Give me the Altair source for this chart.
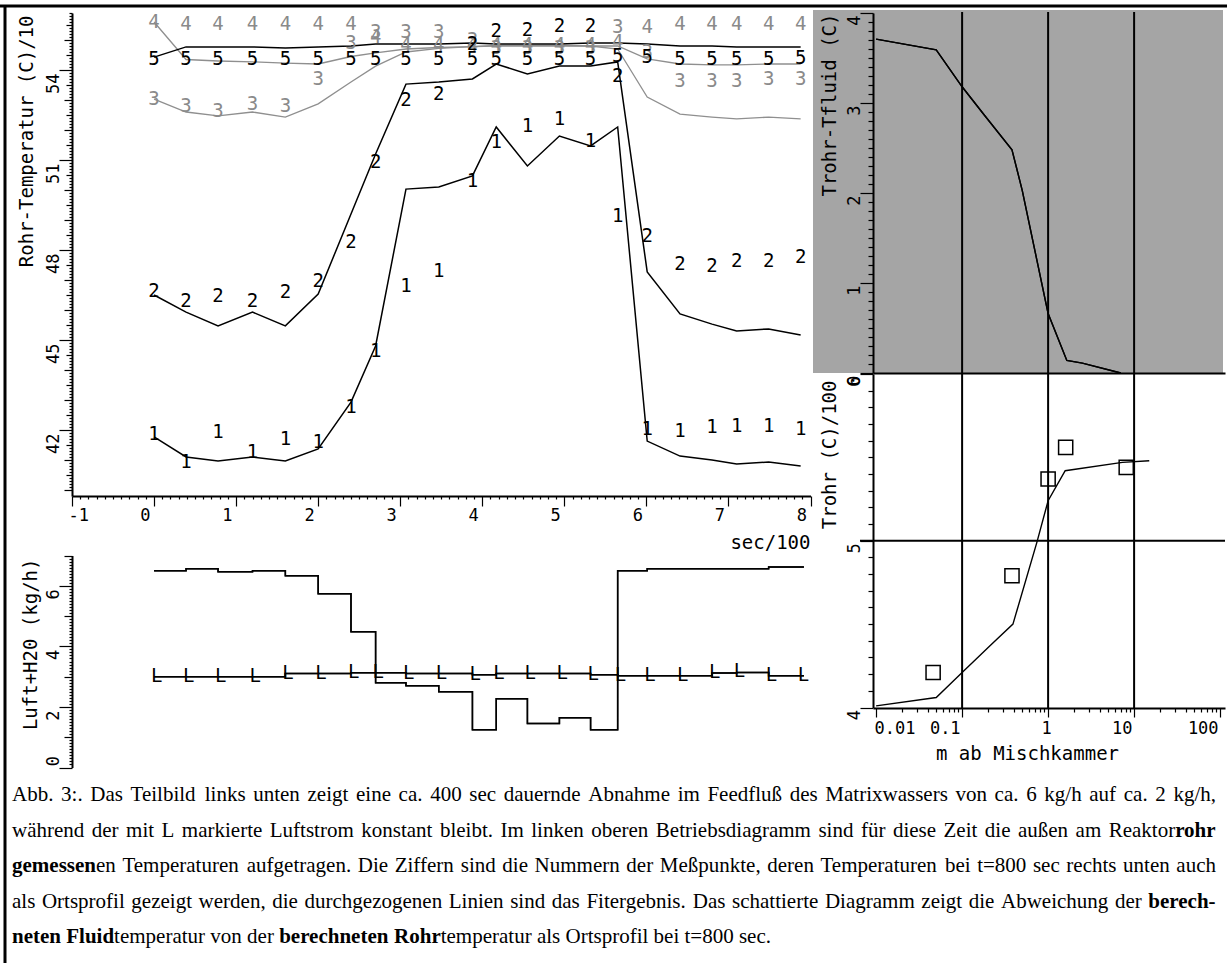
import altair as alt
import pandas as pd

W, H = 1227, 963
MONO = "DejaVu Sans Mono"
SERIF = "Liberation Serif"
GRAY_TXT = "#8a8a8a"
GRAY_LINE = "#8f8f8f"
SHADE = "#a5a5a5"

# ---------------- data: upper left operating diagram (sec/100, deg C/10) ----------------
t_sec = [0, 0.39, 0.78, 1.2, 1.6, 2.0, 2.4, 2.7, 3.07, 3.47, 3.88,
         4.17, 4.55, 4.94, 5.32, 5.65, 6.01, 6.41, 6.8, 7.1, 7.49, 7.88]
series_labels = ["1", "2", "3", "4", "5"]

fit1 = [41.77, 41.1, 40.97, 41.1, 40.97, 41.37, 42.93, 44.8, 50.03, 50.1, 50.47,
        52.1, 50.8, 51.8, 51.47, 52.1, 41.63, 41.13, 41.0, 40.87, 40.93, 40.8]
fit2 = [46.5, 45.93, 45.47, 45.93, 45.47, 46.53, 49.2, 51.2, 53.53, 53.6, 53.7,
        54.2, 53.87, 54.13, 54.13, 54.27, 47.27, 45.87, 45.53, 45.3, 45.37, 45.17]
fit3 = [53.03, 52.6, 52.47, 52.6, 52.43, 52.87, 53.6, 54.13, 54.6, 54.72, 54.78,
        54.82, 54.82, 54.82, 54.8, 54.7, 53.1, 52.53, 52.43, 52.37, 52.43, 52.37]
fit4 = [55.6, 54.35, 54.3, 54.27, 54.23, 54.2, 54.45, 54.57, 54.7, 54.75, 54.78,
        54.8, 54.8, 54.8, 54.8, 54.8, 54.37, 54.2, 54.17, 54.17, 54.2, 54.2]
fit5 = [54.43, 54.77, 54.77, 54.77, 54.73, 54.77, 54.8, 54.87, 54.87, 54.87, 54.9,
        54.87, 54.87, 54.87, 54.9, 54.9, 54.87, 54.8, 54.8, 54.77, 54.77, 54.77]

meas1 = [41.87, 40.93, 41.93, 41.27, 41.7, 41.6, 42.77, 44.63, 46.8, 47.3, 50.3,
         51.6, 52.13, 52.37, 51.63, 49.13, 42.03, 41.97, 42.1, 42.13, 42.13, 42.03]
meas2 = [46.63, 46.3, 46.47, 46.3, 46.6, 46.97, 48.27, 50.93, 53.0, 53.2, 54.87,
         55.3, 55.33, 55.47, 55.47, 53.8, 48.47, 47.53, 47.47, 47.63, 47.63, 47.77]
meas3 = [53.03, 52.8, 52.63, 52.87, 52.8, 53.7, 54.9, 55.27, 55.27, 55.27, 55.0,
         54.75, 54.75, 54.75, 54.75, 55.43, 54.6, 53.63, 53.63, 53.63, 53.7, 53.7]
meas4 = [55.6, 55.53, 55.53, 55.53, 55.53, 55.53, 55.53, 55.1, 54.85, 54.85, 54.85,
         54.85, 54.85, 54.85, 54.85, 54.93, 55.43, 55.53, 55.53, 55.53, 55.53, 55.53]
meas5 = [54.37, 54.37, 54.37, 54.37, 54.37, 54.37, 54.37, 54.37, 54.37, 54.37, 54.37,
         54.37, 54.37, 54.37, 54.37, 54.47, 54.43, 54.37, 54.37, 54.37, 54.37, 54.4]

# ---------------- data: lower left flows (kg/h) ----------------
h2o_flow = [6.5, 6.56, 6.46, 6.5, 6.33, 5.74, 4.48, 2.8, 2.7, 2.5, 1.25,
            2.27, 1.45, 1.64, 1.25, 6.5, 6.56, 6.56, 6.56, 6.56, 6.62, 6.62]
luft_flow = [3.0, 3.0, 3.0, 3.0, 3.1, 3.1, 3.13, 3.13, 3.1, 3.1, 3.06,
             3.1, 3.1, 3.1, 3.06, 3.03, 3.03, 3.03, 3.12, 3.14, 3.03, 3.03]
t_end = 7.92

# ---------------- data: right side, profiles at t=800 sec ----------------
dist_dT = [0.01, 0.05, 0.1, 0.18, 0.38, 0.5, 1.0, 1.65, 2.5, 7.0]
dT_fluid = [3.71, 3.59, 3.18, 2.87, 2.48, 2.03, 0.66, 0.14, 0.11, 0.0]
dist_fit = [0.01, 0.05, 0.1, 0.22, 0.39, 0.74, 1.0, 1.58, 7.3, 15.0]
trohr_fit = [4.01, 4.06, 4.21, 4.38, 4.5, 4.99, 5.24, 5.42, 5.47, 5.48]
dist_meas = [0.046, 0.38, 1.0, 1.6, 8.1]
trohr_meas = [4.21, 4.79, 5.37, 5.56, 5.44]
grid_dist = [0.1, 1, 10]
grid_trohr = [5]

caption_lines = [
    "Abb. 3:. Das Teilbild links unten zeigt eine ca. 400 sec dauernde Abnahme im Feedfluß des Matrixwassers von ca. 6 kg/h auf ca. 2 kg/h,",
    "während der mit L markierte Luftstrom konstant bleibt. Im linken oberen Betriebsdiagramm sind für diese Zeit die außen am Reaktor**rohr**",
    "**gemessen**en Temperaturen aufgetragen. Die Ziffern sind die Nummern der Meßpunkte, deren Temperaturen bei t=800 sec rechts unten auch",
    "als Ortsprofil gezeigt werden, die durchgezogenen Linien sind das Fitergebnis. Das schattierte Diagramm zeigt die Abweichung der **berech-**",
    "**neten Fluid**temperatur von der **berechneten Rohr**temperatur als Ortsprofil bei t=800 sec.",
]

# ---------------- tables ----------------
fit_df = pd.DataFrame([{"t": tt, "v": v, "s": s}
                       for s, arr in zip(series_labels, [fit1, fit2, fit3, fit4, fit5])
                       for tt, v in zip(t_sec, arr)])
meas_df = pd.DataFrame([{"t": tt, "v": v, "s": s}
                        for s, arr in zip(series_labels, [meas1, meas2, meas3, meas4, meas5])
                        for tt, v in zip(t_sec, arr)])
flow_df = pd.DataFrame(
    [{"t": tt, "v": v, "s": "H2O"} for tt, v in zip(t_sec + [t_end], h2o_flow + [h2o_flow[-1]])]
    + [{"t": tt, "v": v, "s": "Luft"} for tt, v in zip(t_sec + [t_end], luft_flow + [luft_flow[-1]])]
)
luft_df = pd.DataFrame({"t": t_sec, "v": luft_flow})
dT_df = pd.DataFrame({"m": dist_dT, "d": dT_fluid})
tfit_df = pd.DataFrame({"m": dist_fit, "T": trohr_fit})
tmeas_df = pd.DataFrame({"m": dist_meas, "T": trohr_meas})
gx_df = pd.DataFrame({"g": grid_dist})
gy_df = pd.DataFrame({"g": grid_trohr})

# ---------------- caption layout (Times metrics, justified) ----------------
TR = {' ': 250, '!': 333, ',': 250, '-': 333, '.': 250, '/': 278, ':': 278, ';': 278, '=': 564,
      'A': 722, 'B': 667, 'C': 667, 'D': 722, 'E': 611, 'F': 556, 'G': 722, 'H': 722, 'I': 333,
      'J': 389, 'K': 722, 'L': 611, 'M': 889, 'N': 722, 'O': 722, 'P': 556, 'Q': 722, 'R': 667,
      'S': 556, 'T': 611, 'U': 722, 'V': 722, 'W': 944, 'X': 722, 'Y': 722, 'Z': 611,
      'a': 444, 'b': 500, 'c': 444, 'd': 500, 'e': 444, 'f': 333, 'g': 500, 'h': 500, 'i': 278,
      'j': 278, 'k': 500, 'l': 278, 'm': 778, 'n': 500, 'o': 500, 'p': 500, 'q': 500, 'r': 333,
      's': 389, 't': 278, 'u': 500, 'v': 500, 'w': 722, 'x': 500, 'y': 500, 'z': 444,
      'ä': 444, 'ö': 500, 'ü': 500, 'ß': 500}
for d in "0123456789":
    TR[d] = 500
TB = {' ': 250, ',': 250, '-': 333, '.': 250, 'F': 611, 'R': 722,
      'a': 500, 'b': 556, 'c': 444, 'd': 556, 'e': 444, 'f': 333, 'g': 500, 'h': 556, 'i': 278,
      'j': 333, 'k': 556, 'l': 278, 'm': 833, 'n': 556, 'o': 500, 'p': 556, 'q': 556, 'r': 444,
      's': 389, 't': 333, 'u': 556, 'v': 500, 'w': 722, 'x': 500, 'y': 500, 'z': 444}
CAP_SIZE = 21
CAP_X0, CAP_X1 = 12, 1216
CAP_Y = [801, 836.5, 872, 907.5, 943]


def tw(s, bold):
    table = TB if bold else TR
    return sum(table.get(ch, 500) for ch in s) * CAP_SIZE / 1000.0


def parse(line):
    words, cur = [], []
    for k, seg in enumerate(line.split("**")):
        bold = k % 2 == 1
        for j, p in enumerate(seg.split(" ")):
            if j > 0 and cur:
                words.append(cur)
                cur = []
            if p:
                cur.append((p, bold))
    if cur:
        words.append(cur)
    return words


cap_rows = []
for li, line in enumerate(caption_lines):
    words = parse(line)
    widths = [sum(tw(p, b) for p, b in w) for w in words]
    if li == len(caption_lines) - 1:
        gap = tw(" ", False)
    else:
        gap = (CAP_X1 - CAP_X0 - sum(widths)) / (len(words) - 1)
    x = CAP_X0
    for w, wd in zip(words, widths):
        xx = x
        for p, b in w:
            cap_rows.append({"txt": p, "x": xx, "y": CAP_Y[li], "bold": bool(b)})
            xx += tw(p, b)
        x += wd + gap
cap_df = pd.DataFrame(cap_rows)

# ---------------- axis helpers ----------------
def seq(lo, hi, step):
    n = int(round((hi - lo) / step))
    return [round(lo + i * step, 4) for i in range(n + 1)]


def is_mult(v, m):
    return abs(v / m - round(v / m)) < 1e-6


AX = dict(zindex=1, domainColor="black", domainWidth=2, tickColor="black", tickWidth=1.2,
          labelFont=MONO, labelFontSize=17, labelColor="black",
          titleFont=MONO, titleFontSize=19, titleFontWeight="normal", titleColor="black",
          labelOverlap=False, labelFlush=False, grid=False)
YROT = dict(labelAngle=270, labelAlign="right", labelBaseline="middle",
            titleAngle=270, titleAlign="right", titleBaseline="middle")


def tick_axis(orient, offset, values, size):
    d = dict(AX)
    d.update(orient=orient, offset=offset, values=values, tickSize=size,
             labels=False, domain=False, title="")
    return alt.Axis(**d)


def main_axis(**kw):
    d = dict(AX)
    d.update(kw)
    return alt.Axis(**d)


# ---------------- panel A: upper left ----------------
xA = alt.Scale(domain=[-1, 8], range=[72, 810.5], nice=False, zero=False)
yA = alt.Scale(domain=[39.8, 55.9], range=[496, 13], nice=False, zero=False)
OFF_AX = 496 - H

ax_all = seq(-1, 8, 0.1)
ax_major = [v for v in ax_all if is_mult(v, 1)]
ax_minor = [v for v in ax_all if not is_mult(v, 1)]
ay_all = seq(40, 55.9, 0.1)
ay_major = [v for v in ay_all if is_mult(v, 3)]
ay_int = [v for v in ay_all if is_mult(v, 1) and not is_mult(v, 3)]
ay_half = [v for v in ay_all if is_mult(v, 0.5) and not is_mult(v, 1)]
ay_minor = [v for v in ay_all if not is_mult(v, 0.5)]

axA_x = main_axis(orient="bottom", offset=OFF_AX, values=ax_major, tickSize=10,
                  labelExpr="'' + datum.value",
                  labelAlign={"condition": {"test": "datum.value < -0.5", "value": "left"},
                              "value": "right"},
                  labelOffset=-4, labelBaseline="middle", labelPadding=9,
                  title="sec/100", titleX=810, titleY=46, titleAlign="right",
                  titleBaseline="middle", titleAngle=0)
axA_y = main_axis(orient="left", offset=-72, values=ay_major, tickSize=13,
                  labelExpr="'' + datum.value", labelPadding=6, labelOffset=3,
                  title="Rohr-Temperatur (C)/10", titleX=-46, titleY=15, **YROT)

gray_sel = alt.FieldOneOfPredicate(field="s", oneOf=["3", "4"])
black_sel = alt.FieldOneOfPredicate(field="s", oneOf=["1", "2", "5"])

gray_lines = alt.Chart(fit_df).transform_filter(gray_sel).mark_line(
    color=GRAY_LINE, strokeWidth=1.3).encode(
    x=alt.X("t:Q", scale=xA, axis=axA_x), y=alt.Y("v:Q", scale=yA, axis=axA_y), detail="s:N")
black_lines = alt.Chart(fit_df).transform_filter(black_sel).mark_line(
    color="black", strokeWidth=1.5).encode(
    x=alt.X("t:Q", scale=xA, axis=tick_axis("bottom", OFF_AX, ax_minor, 3)),
    y=alt.Y("v:Q", scale=yA, axis=tick_axis("left", -72, ay_int, 8)), detail="s:N")
gray_digits = alt.Chart(meas_df).transform_filter(gray_sel).mark_text(
    font=MONO, fontSize=19, color=GRAY_TXT).encode(
    x=alt.X("t:Q", scale=xA, axis=None),
    y=alt.Y("v:Q", scale=yA, axis=tick_axis("left", -72, ay_half, 6)), text="s:N")
black_digits = alt.Chart(meas_df).transform_filter(black_sel).mark_text(
    font=MONO, fontSize=19, color="black").encode(
    x=alt.X("t:Q", scale=xA, axis=None),
    y=alt.Y("v:Q", scale=yA, axis=tick_axis("left", -72, ay_minor, 3)), text="s:N")

# ---------------- panel B: lower left ----------------
xB = alt.Scale(domain=[-1, 8], range=[72, 810.5], nice=False, zero=False)
yB = alt.Scale(domain=[0, 7], range=[767.5, 555.5], nice=False, zero=False)
by_all = seq(0, 7, 0.1)
by_major = [v for v in by_all if is_mult(v, 2)]
by_int = [v for v in by_all if is_mult(v, 1) and not is_mult(v, 2)]
by_minor = [v for v in by_all if not is_mult(v, 1)]
axB_y = main_axis(orient="left", offset=-72, values=by_major, tickSize=13,
                  labelExpr="'' + datum.value", labelPadding=6,
                  labelOffset={"condition": {"test": "datum.value < 0.5", "value": -12},
                               "value": 3},
                  title="Luft+H20 (kg/h)", titleX=-42, titleY=558, **YROT)
flow_lines = alt.Chart(flow_df).mark_line(interpolate="step-after", color="black",
                                          strokeWidth=1.5).encode(
    x=alt.X("t:Q", scale=xB, axis=None), y=alt.Y("v:Q", scale=yB, axis=axB_y), detail="s:N")
flow_lines2 = alt.Chart(flow_df).mark_line(interpolate="step-after", color="black",
                                           strokeWidth=1.5).encode(
    x=alt.X("t:Q", scale=xB, axis=None),
    y=alt.Y("v:Q", scale=yB, axis=tick_axis("left", -72, by_int, 8)), detail="s:N")
l_marks = alt.Chart(luft_df).mark_text(text="L", font=MONO, fontSize=19, color="black",
                                       align="left", baseline="alphabetic", dx=-3, dy=5).encode(
    x=alt.X("t:Q", scale=xB, axis=None),
    y=alt.Y("v:Q", scale=yB, axis=tick_axis("left", -72, by_minor, 3)))

# ---------------- panel C: upper right (shaded) ----------------
xC = alt.Scale(type="log", domain=[0.0092, 114], range=[873, 1225], nice=False)
yC = alt.Scale(domain=[0, 4], range=[373, 13], nice=False, zero=False)
cy_all = seq(0, 4, 0.1)
cy_major = [v for v in cy_all if is_mult(v, 1)]
cy_minor = [v for v in cy_all if not is_mult(v, 1)]
axC_x = main_axis(orient="bottom", offset=373 - H, values=grid_dist, ticks=False,
                  labels=False, title="")
axC_y = main_axis(orient="left", offset=-873, values=cy_major, tickSize=13,
                  labelExpr="'' + datum.value", labelPadding=6, labelOffset=2,
                  title="Trohr-Tfluid (C)", titleX=-44, titleY=13, **YROT)
dT_line = alt.Chart(dT_df).mark_line(color="black", strokeWidth=1.4).encode(
    x=alt.X("m:Q", scale=xC, axis=axC_x), y=alt.Y("d:Q", scale=yC, axis=axC_y))
dT_line2 = alt.Chart(dT_df).mark_line(color="black", strokeWidth=1.4).encode(
    x=alt.X("m:Q", scale=xC, axis=None),
    y=alt.Y("d:Q", scale=yC, axis=tick_axis("left", -873, cy_minor, 5)))

# ---------------- panel D: lower right ----------------
xD = alt.Scale(type="log", domain=[0.0092, 114], range=[873, 1225], nice=False)
yD = alt.Scale(domain=[4, 6], range=[707.5, 374], nice=False, zero=False)
log_all = [round(m * 10.0 ** e, 6) for e in range(-2, 2) for m in range(1, 10)] + [100.0]
dx_major = [v for v in log_all if v in (0.01, 0.1, 1.0, 10.0, 100.0)]
dx_minor = [v for v in log_all if v not in (0.01, 0.1, 1.0, 10.0, 100.0)]
dy_all = seq(4, 6, 0.1)
dy_major = [v for v in dy_all if is_mult(v, 1)]
dy_minor = [v for v in dy_all if not is_mult(v, 1)]
axD_x = main_axis(orient="bottom", offset=708 - H, values=dx_major, tickSize=9,
                  labelExpr="'' + datum.value",
                  labelAlign={"condition": [{"test": "datum.value < 0.02", "value": "left"},
                                            {"test": "datum.value > 0.5 && datum.value < 2",
                                             "value": "center"}],
                              "value": "right"},
                  labelOffset=-2, labelBaseline="middle", labelPadding=11,
                  title="m ab Mischkammer", titleX=1027, titleY=45, titleAlign="center",
                  titleBaseline="middle", titleAngle=0)
axD_y = main_axis(orient="left", offset=-873, values=dy_major, tickSize=13,
                  labelExpr="'' + datum.value", labelPadding=6, labelOffset=2,
                  title="Trohr (C)/100", titleX=-44, titleY=380, **YROT)
fit_line = alt.Chart(tfit_df).mark_line(color="black", strokeWidth=1.4).encode(
    x=alt.X("m:Q", scale=xD, axis=axD_x), y=alt.Y("T:Q", scale=yD, axis=axD_y))
squares = alt.Chart(tmeas_df).mark_point(shape="square", filled=False, size=200,
                                         color="black", strokeWidth=1.5, opacity=1).encode(
    x=alt.X("m:Q", scale=xD, axis=tick_axis("bottom", 708 - H, dx_minor, 4)),
    y=alt.Y("T:Q", scale=yD, axis=tick_axis("left", -873, dy_minor, 5)))

# grid lines of the right-hand profiles
vgrid = alt.Chart(gx_df).mark_rule(color="black", strokeWidth=2).encode(
    x=alt.X("g:Q", scale=xC, axis=None), y=alt.value(12), y2=alt.value(708))
hgrid = alt.Chart(gy_df).mark_rule(color="black", strokeWidth=2).encode(
    y=alt.Y("g:Q", scale=yD, axis=None), x=alt.value(860), x2=alt.value(1225))

# ---------------- caption ----------------
cx = alt.Scale(domain=[0, W], range=[0, W], nice=False, zero=False)
cy = alt.Scale(domain=[0, H], range=[0, H], nice=False, zero=False)
cap_norm = alt.Chart(cap_df).transform_filter("!datum.bold").mark_text(
    font=SERIF, fontSize=CAP_SIZE, align="left", baseline="alphabetic", color="black").encode(
    x=alt.X("x:Q", scale=cx, axis=None), y=alt.Y("y:Q", scale=cy, axis=None), text="txt:N")
cap_bold = alt.Chart(cap_df).transform_filter("datum.bold").mark_text(
    font=SERIF, fontSize=CAP_SIZE, fontWeight="bold", align="left", baseline="alphabetic",
    color="black").encode(
    x=alt.X("x:Q", scale=cx, axis=None), y=alt.Y("y:Q", scale=cy, axis=None), text="txt:N")

# ---------------- decoration ----------------
one = pd.DataFrame({"k": [0]})
shade = alt.Chart(one).mark_rect(color=SHADE).encode(
    x=alt.value(813), x2=alt.value(1223), y=alt.value(10), y2=alt.value(373))
border_top = alt.Chart(one).mark_rule(color="black", strokeWidth=3).encode(
    x=alt.value(0), x2=alt.value(W), y=alt.value(6))
border_left = alt.Chart(one).mark_rule(color="black", strokeWidth=3).encode(
    x=alt.value(5), y=alt.value(5), y2=alt.value(H))

chart = alt.layer(
    shade, vgrid, hgrid,
    gray_lines, black_lines, gray_digits, black_digits,
    flow_lines, flow_lines2, l_marks,
    dT_line, dT_line2,
    fit_line, squares,
    cap_norm, cap_bold, border_top, border_left,
).resolve_scale(x="independent", y="independent").properties(
    width=W, height=H, autosize=alt.AutoSizeParams(type="none"), padding=0
).configure_view(strokeWidth=0)

chart.save("out.html", embed_options={"renderer": "svg", "actions": False})
